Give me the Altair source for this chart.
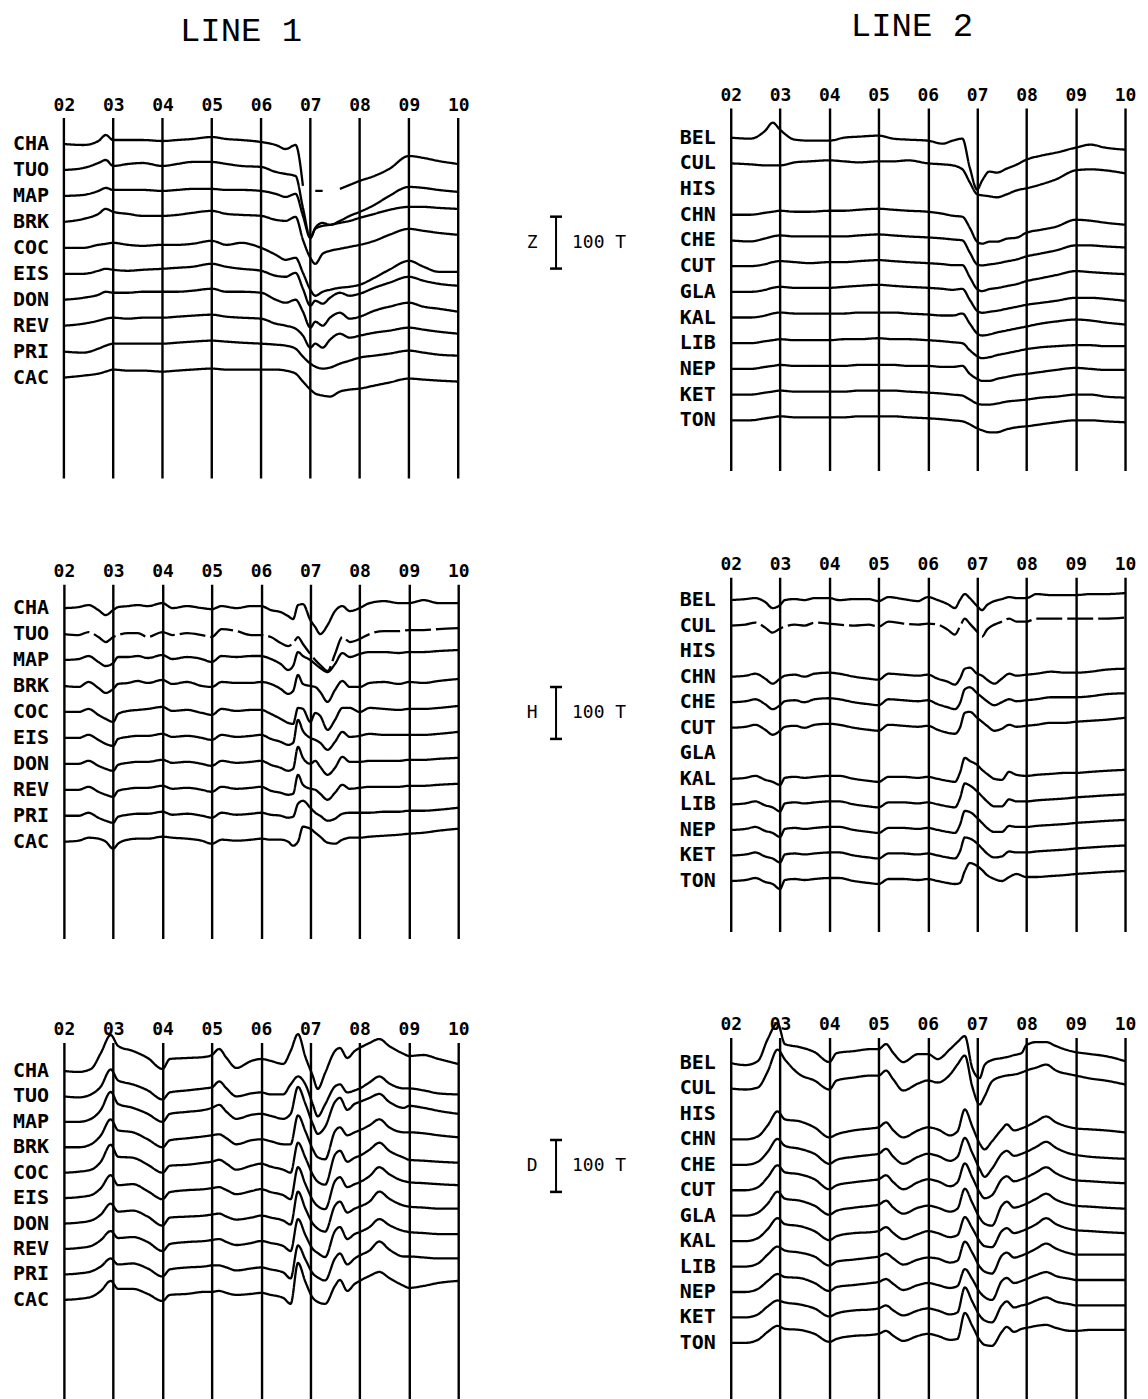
import json
import altair as alt
import pandas as pd

# ---------------------------------------------------------------- axes / labels
HOURS = [2, 3, 4, 5, 6, 7, 8, 9, 10]
HOUR_LABELS = ["02", "03", "04", "05", "06", "07", "08", "09", "10"]

LINE1 = ["CHA", "TUO", "MAP", "BRK", "COC", "EIS", "DON", "REV", "PRI", "CAC"]
LINE2 = ["BEL", "CUL", "HIS", "CHN", "CHE", "CUT", "GLA", "KAL", "LIB", "NEP", "KET", "TON"]

# sample times (hours UT) used when reading the traces
T_Z = [2.0, 2.4, 2.7, 2.85, 3.0, 3.3, 3.6, 4.0, 4.3, 4.6, 5.0, 5.3, 5.6, 6.0, 6.3, 6.5,
       6.7, 6.85, 7.0, 7.1, 7.25, 7.4, 7.6, 7.8, 8.0, 8.3, 8.6, 9.0, 9.3, 9.6, 10.0]
T_H = [2.0, 2.3, 2.5, 2.7, 2.85, 3.0, 3.1, 3.3, 3.5, 3.7, 4.0, 4.2, 4.5, 4.8, 5.0, 5.2,
       5.5, 5.8, 6.0, 6.2, 6.4, 6.55, 6.65, 6.75, 6.85, 7.0, 7.1, 7.2, 7.35, 7.5, 7.65,
       7.8, 8.0, 8.2, 8.5, 8.8, 9.0, 9.3, 9.6, 10.0]
T_D = [2.0, 2.3, 2.55, 2.75, 2.95, 3.1, 3.4, 3.7, 4.0, 4.15, 4.5, 4.85, 5.0, 5.15, 5.3,
       5.5, 5.8, 6.0, 6.2, 6.45, 6.6, 6.75, 6.9, 7.05, 7.15, 7.3, 7.5, 7.6, 7.75, 7.9,
       8.0, 8.2, 8.4, 8.6, 8.9, 9.0, 9.3, 9.6, 10.0]

# trace deviations from each station's baseline
# (plot units: 26 units = 50 T, i.e. the 100 T scale bar is 52 units); None = gap
Z_LINE1 = {
    "CHA": [0, -1, 3, 9, 4, 4, 4, 3, 4, 5, 7, 5, 4, 2, -1, -5, -1, -42, None, -47, -47, None, -45, -41, -37, -32, -25, -12, -14, -17, -20],
    "TUO": [0, 2, 7, 10, 4, 6, 7, 4, 6, 8, 8, 6, 4, 3, -2, -4, -6, -38, -68, -58, -53, -55, -51, -46, -42, -35, -26, -17, -18, -20, -22],
    "MAP": [0, 1, 5, 8, 6, 6, 6, 5, 6, 7, 7, 6, 6, 5, 2, -1, 2, -20, -42, -33, -30, -29, -27, -25, -22, -18, -14, -11, -11, -12, -13],
    "BRK": [0, 3, 8, 13, 10, 8, 6, 6, 7, 9, 11, 8, 7, 6, 2, 1, 5, -18, -36, -42, -32, -29, -27, -25, -23, -19, -13, -7, -9, -11, -13],
    "COC": [0, 0, 3, 4, 5, 3, 2, 3, 3, 4, 7, 3, 5, 0, -7, -12, -10, -25, -42, -48, -44, -42, -40, -39, -37, -30, -22, -13, -19, -24, -24],
    "EIS": [0, 0, 3, 5, 4, 3, 4, 5, 6, 7, 10, 7, 5, 3, -2, -3, 1, -15, -32, -27, -30, -24, -19, -22, -20, -14, -9, -3, -7, -10, -12],
    "DON": [0, 2, 5, 8, 7, 7, 8, 8, 8, 9, 11, 8, 8, 7, 0, -3, 0, -12, -28, -22, -26, -18, -13, -19, -17, -11, -7, -3, -7, -9, -12],
    "REV": [0, 2, 5, 7, 8, 7, 8, 8, 9, 10, 11, 9, 8, 7, 2, 0, -3, -10, -22, -18, -22, -14, -8, -12, -10, -7, -5, -2, -4, -6, -8],
    "PRI": [0, -1, 3, 6, 8, 8, 8, 8, 9, 10, 11, 10, 9, 8, 7, 6, 3, -5, -12, -15, -17, -16, -12, -9, -6, -4, -2, 1, -1, -3, -4],
    "CAC": [0, 2, 4, 6, 8, 7, 7, 6, 7, 8, 9, 8, 8, 8, 8, 7, 4, -4, -12, -16, -18, -19, -14, -12, -11, -8, -5, -1, -2, -3, -4],
}
Z_LINE2 = {
    "BEL": [0, -1, 7, 15, 8, -2, -3, -3, 0, 1, 2, -1, -2, -3, -6, -3, -1, -30, -52, -43, -34, -35, -31, -27, -22, -18, -15, -10, -7, -10, -12],
    "CUL": [0, -1, -2, -2, -2, 1, 2, 3, 2, 1, 2, 2, 3, 0, -1, -2, -6, -19, -31, -32, -33, -34, -31, -27, -25, -21, -16, -7, -6, -7, -10],
    "CHN": [0, 0, 2, 3, 4, 3, 3, 4, 4, 5, 6, 5, 4, 3, 1, -1, -2, -13, -27, -29, -27, -27, -24, -23, -18, -15, -12, -5, -6, -8, -10],
    "CHE": [0, -1, 2, 4, 5, 4, 4, 4, 4, 5, 6, 5, 4, 3, 2, 1, 0, -12, -24, -25, -24, -23, -21, -19, -16, -13, -10, -5, -5, -6, -7],
    "CUT": [0, 0, 2, 4, 5, 4, 3, 4, 4, 5, 6, 5, 4, 3, 2, 1, 1, -11, -23, -25, -23, -22, -20, -18, -15, -12, -9, -5, -6, -7, -8],
    "GLA": [0, 0, 2, 4, 5, 4, 4, 4, 5, 6, 7, 6, 5, 4, 3, 2, 3, -8, -19, -21, -20, -19, -17, -15, -13, -11, -9, -6, -6, -7, -9],
    "KAL": [0, 0, 2, 4, 5, 4, 4, 4, 4, 5, 5, 5, 4, 3, 2, 2, 4, -6, -16, -18, -17, -15, -13, -11, -9, -6, -4, -2, -3, -5, -7],
    "LIB": [0, 0, 2, 3, 4, 3, 3, 3, 4, 4, 5, 4, 4, 3, 2, 1, 0, -7, -13, -15, -14, -12, -10, -8, -6, -4, -3, -2, -2, -3, -3],
    "NEP": [0, 0, 2, 3, 4, 3, 3, 3, 3, 4, 4, 4, 3, 3, 2, 2, 3, -5, -10, -12, -12, -10, -8, -6, -5, -3, -1, 1, 0, -1, -1],
    "KET": [0, 0, 2, 3, 4, 3, 3, 3, 3, 4, 4, 4, 3, 2, 1, 0, -1, -5, -9, -10, -10, -9, -7, -6, -5, -3, -2, 0, 0, -2, -3],
    "TON": [0, 0, 2, 3, 4, 3, 3, 3, 3, 4, 4, 4, 3, 2, 1, 0, -1, -4, -8, -10, -12, -12, -9, -7, -6, -4, -2, 0, 0, -1, -2],
}
H_LINE1 = {
    "CHA": [0, 1, 3, -2, -7, -2, 1, 2, 3, 2, 5, 0, 2, 0, -1, 2, 0, 2, 2, -2, -4, -8, -11, 3, 4, -12, -19, -26, -17, -3, 2, -3, 0, 5, 7, 5, 5, 8, 5, 5],
    "TUO": [0, -1, 2, -3, -8, -3, -1, 1, 1, -3, 2, -1, 1, -1, -3, 5, 3, -1, -1, -3, -9, -12, -9, -3, -10, -20, -26, -31, -37, -20, -3, -8, -5, 0, 3, 3, 4, 4, 5, 6],
    "MAP": [0, 1, 4, -2, -6, -3, 3, 3, 4, 2, 5, 1, 3, 1, -2, 4, 3, 4, 4, 1, -4, -10, -6, 8, 4, 0, -4, -8, -12, -4, 7, 3, 6, 8, 8, 7, 8, 8, 9, 10],
    "BRK": [0, -1, 4, -2, -7, -3, 2, 3, 5, 3, 6, 2, 4, 0, -1, 4, 3, 3, 4, 2, -3, -8, -5, 11, 2, 0, -1, -6, -16, -4, 5, -1, -1, 3, 4, 2, 4, 3, 5, 7],
    "COC": [0, 0, 3, -3, -7, -10, -2, 1, 2, 3, 5, 1, 2, -1, -3, 3, 1, 2, 2, -2, -7, -11, -12, 4, 3, -10, -1, -4, -18, -8, 4, 4, 0, 4, 3, 2, 3, 3, 4, 6],
    "EIS": [0, 0, 3, -2, -6, -8, -1, 1, 2, 2, 4, 1, 2, 0, -2, 3, 1, 2, 3, -1, -4, -7, -5, 18, 7, 0, -2, -5, -12, -4, 6, 1, 2, 4, 3, 3, 3, 3, 4, 6],
    "DON": [0, 0, 3, -2, -5, -7, -1, 1, 2, 2, 4, 1, 2, 0, -2, 3, 1, 2, 3, -1, -4, -7, -5, 17, 6, 0, 3, -3, -11, -4, 7, 2, 2, 3, 3, 3, 4, 4, 5, 6],
    "REV": [0, 0, 3, -2, -5, -7, -1, 1, 2, 2, 4, 1, 2, 0, -2, 3, 1, 2, 3, -1, -3, -5, -4, 15, 5, 1, 0, -4, -10, -3, 5, 1, 2, 3, 3, 3, 4, 4, 5, 6],
    "PRI": [0, 0, 3, -2, -5, -7, -1, 1, 2, 2, 4, 1, 2, 0, -2, 3, 1, 2, 3, 1, 0, -2, -1, 12, 15, 8, 3, 0, -5, -3, 2, 3, 3, 3, 4, 4, 5, 5, 6, 8],
    "CAC": [0, 1, 4, 3, 0, -7, -2, 2, 3, 3, 5, 4, 3, 1, -2, 2, 1, 2, 3, 2, 2, 0, -4, 0, 15, 13, 9, 5, -1, -2, 2, 4, 4, 5, 6, 7, 8, 9, 11, 13],
}
H_LINE2 = {
    "BEL": [0, 1, 2, -2, -8, -5, 0, 1, 0, 2, 2, 0, 1, 1, -1, 3, 1, -1, 3, 0, -4, -8, 0, 6, 2, -6, -10, -5, -1, 1, 3, 2, 2, 6, 5, 5, 5, 6, 6, 7],
    "CUL": [0, 1, 3, -2, -7, -3, -1, 1, 0, 3, 2, 1, 0, 1, -1, 4, 2, 1, 2, 1, -4, -9, -1, 7, 2, -6, -11, -4, 1, 4, 7, 4, 4, 7, 7, 7, 7, 7, 7, 8],
    "CHN": [0, 1, 3, -2, -7, -2, 1, 2, 0, 3, 4, 3, 0, -2, -3, 3, 2, 1, 2, -2, -5, -8, -2, 8, 9, 3, 1, -3, -7, -2, 3, 1, 2, 3, 5, 4, 4, 5, 7, 8],
    "CHE": [0, 1, 3, -2, -7, -3, 1, 2, 0, 3, 4, 3, 0, -2, -3, 3, 2, 1, 2, -2, -5, -7, -1, 13, 15, 9, 5, 1, -3, 0, 3, 1, 2, 3, 5, 5, 5, 6, 8, 9],
    "CUT": [0, 1, 3, -2, -7, -3, 1, 2, 0, 3, 4, 3, 0, -2, -3, 3, 2, 1, 2, -2, -5, -6, 0, 15, 16, 10, 6, 2, -3, -1, 3, 1, 2, 3, 5, 5, 6, 7, 8, 10],
    "KAL": [0, 1, 3, -1, -3, -6, 1, 2, 1, 2, 3, 3, 0, -2, -3, 2, 2, 1, 2, 0, -2, -3, 6, 21, 18, 14, 9, 5, 0, -1, 7, 4, 3, 4, 5, 6, 6, 7, 8, 9],
    "LIB": [0, 1, 3, -1, -3, -7, 1, 2, 1, 2, 3, 3, 0, -2, -3, 2, 2, 1, 2, 0, -2, -3, 6, 21, 19, 13, 8, 3, -2, -2, 5, 3, 3, 4, 5, 6, 7, 8, 9, 10],
    "NEP": [0, 1, 3, -1, -3, -7, 1, 2, 1, 2, 3, 3, 0, -2, -3, 2, 2, 1, 2, 0, -2, -3, 5, 19, 18, 12, 7, 2, -2, -2, 4, 3, 3, 4, 5, 6, 7, 8, 9, 10],
    "KET": [0, 1, 3, -1, -3, -7, 1, 2, 1, 2, 3, 3, 0, -2, -3, 2, 2, 1, 2, 0, -2, -3, 4, 18, 17, 12, 7, 2, -2, -1, 4, 3, 3, 4, 5, 6, 7, 8, 9, 10],
    "TON": [0, 1, 3, -1, -3, -8, 1, 2, 1, 2, 3, 3, 0, -2, -3, 2, 2, 1, 2, 0, -2, -3, -2, 10, 18, 15, 11, 6, 2, 0, 4, 7, 4, 4, 5, 6, 7, 8, 9, 10],
}
D_LINE1 = {
    "CHA": [0, -1, 2, 18, 36, 25, 20, 13, 2, 12, 13, 14, 16, 22, 13, 3, 10, 12, 10, 7, 20, 37, 14, -5, -18, -2, 20, 23, 13, 20, 23, 28, 32, 25, 17, 15, 16, 12, 7],
    "TUO": [0, -1, 2, 10, 27, 16, 12, 6, -3, 4, 6, 8, 9, 15, 8, 0, 3, 4, 2, 2, 12, 20, 12, -8, -20, -8, 10, 12, 4, 6, 8, 14, 20, 13, 8, 8, 6, 3, 2],
    "MAP": [0, 0, 3, 12, 30, 18, 14, 8, 0, 8, 10, 12, 14, 17, 10, 3, 7, 8, 6, 3, 8, 35, 18, -2, -12, -5, 20, 24, 12, 18, 20, 24, 28, 20, 14, 16, 14, 11, 8],
    "BRK": [0, 0, 3, 12, 28, 17, 15, 8, 0, 7, 9, 11, 12, 13, 9, 3, 7, 8, 6, 3, 3, 32, 16, -2, -10, -12, 16, 20, 12, 15, 17, 22, 28, 20, 15, 15, 14, 12, 10],
    "COC": [0, 1, 3, 11, 28, 16, 15, 8, 0, 7, 8, 10, 11, 13, 9, 3, 7, 9, 6, 3, 0, 30, 15, -2, -9, -12, 18, 22, 11, 15, 17, 23, 30, 22, 15, 13, 12, 11, 10],
    "EIS": [0, 1, 3, 10, 23, 13, 14, 7, -1, 6, 8, 9, 10, 11, 8, 4, 7, 9, 6, 3, -1, 31, 14, -2, -8, -11, 17, 21, 11, 14, 16, 22, 31, 24, 17, 16, 15, 14, 13],
    "DON": [0, 1, 3, 9, 20, 12, 13, 7, -2, 6, 7, 8, 9, 10, 7, 4, 6, 8, 6, 3, -1, 32, 15, 0, -5, -8, 18, 22, 11, 15, 17, 22, 32, 25, 18, 17, 16, 15, 15],
    "REV": [0, 1, 3, 9, 18, 11, 12, 7, -2, 5, 7, 8, 9, 10, 7, 4, 6, 8, 6, 3, -2, 30, 14, 0, -4, -8, 18, 22, 10, 15, 17, 22, 30, 24, 18, 17, 16, 15, 15],
    "PRI": [0, 1, 3, 8, 16, 10, 11, 6, -2, 5, 7, 8, 9, 9, 7, 4, 6, 7, 5, 2, -4, 29, 15, 1, -3, -6, 16, 21, 10, 16, 19, 24, 33, 25, 18, 18, 17, 16, 16],
    "CAC": [0, 1, 3, 9, 19, 11, 11, 6, -1, 5, 6, 8, 8, 9, 7, 5, 6, 7, 5, 2, -4, 37, 18, 2, -2, -4, 14, 20, 9, 16, 19, 24, 28, 22, 14, 12, 14, 17, 19],
}
D_LINE2 = {
    "BEL": [0, -2, 2, 24, 40, 19, 16, 11, 1, 10, 12, 14, 14, 19, 10, 1, 9, 9, 4, 14, 21, 27, -5, -15, -2, 3, 5, 6, 8, 10, 18, 21, 21, 17, 12, 11, 9, 7, 2],
    "CUL": [0, -1, 1, 17, 39, 29, 14, 8, -1, 8, 11, 13, 13, 18, 9, -2, 5, 8, 6, 14, 24, 33, 2, -16, -8, 7, 12, 13, 14, 16, 18, 21, 24, 18, 14, 13, 10, 8, 4],
    "CHN": [0, 0, 3, 14, 28, 20, 18, 12, 2, 5, 9, 11, 12, 17, 9, 2, 9, 12, 10, 4, 8, 30, 13, -4, -10, -2, 10, 15, 9, 11, 13, 18, 23, 17, 12, 11, 10, 9, 7],
    "CHE": [0, 0, 3, 13, 26, 19, 16, 11, 1, 5, 8, 10, 11, 16, 8, 1, 8, 11, 9, 4, 8, 27, 12, -4, -12, -4, 11, 14, 9, 11, 13, 18, 23, 17, 11, 10, 8, 7, 6],
    "CUT": [0, 0, 3, 13, 25, 18, 16, 11, 1, 5, 8, 10, 11, 15, 8, 1, 8, 11, 9, 4, 8, 27, 13, -2, -8, -5, 11, 14, 9, 11, 13, 18, 23, 17, 11, 10, 9, 8, 7],
    "GLA": [0, 0, 3, 12, 24, 17, 15, 10, 1, 5, 8, 10, 11, 15, 8, 2, 8, 10, 8, 4, 7, 27, 13, -2, -8, -10, 10, 14, 8, 10, 12, 17, 22, 16, 11, 10, 9, 8, 7],
    "KAL": [0, 0, 3, 12, 23, 17, 15, 10, 1, 5, 8, 9, 10, 14, 8, 2, 7, 10, 8, 4, 6, 24, 13, 0, -5, -6, 10, 13, 8, 10, 12, 17, 23, 17, 12, 11, 10, 9, 8],
    "LIB": [0, 0, 3, 12, 20, 16, 14, 10, 1, 5, 7, 9, 10, 13, 8, 2, 7, 9, 8, 4, 6, 25, 14, 0, -5, -7, 11, 14, 9, 11, 13, 18, 23, 18, 13, 12, 12, 12, 12],
    "NEP": [0, 0, 3, 11, 18, 15, 14, 9, 1, 5, 7, 9, 10, 13, 8, 2, 7, 9, 7, 4, 6, 23, 13, 0, -5, -8, 11, 14, 9, 11, 13, 17, 20, 16, 13, 12, 12, 12, 12],
    "KET": [0, 0, 3, 11, 17, 15, 13, 9, 1, 4, 7, 8, 9, 12, 7, 2, 7, 9, 7, 3, 5, 30, 16, 2, -3, -5, 12, 16, 10, 12, 13, 17, 20, 16, 13, 12, 12, 12, 12],
    "TON": [0, 0, 3, 11, 17, 14, 13, 9, 1, 4, 7, 8, 9, 12, 7, 2, 7, 9, 7, 3, 4, 30, 17, 3, -2, -3, 11, 16, 11, 14, 15, 17, 18, 15, 12, 12, 13, 13, 13],
}

SCALE_LABEL = "100 T"
SCALE_T = 100
BAR_BOTTOM = {"Z": -290, "H": -298, "D": -288}   # T, in the LINE 1 panel's frame

# ---------------------------------------------------------------- styling / layout
FONT = "DejaVu Sans Mono"
TITLE_FONT = "Liberation Mono"
UNITS_PER_T = 0.52          # plot units (px) per T
PANEL_W = 395
BAR_X, LETTER_X, UNIT_X = 11.985, 11.5, 12.31   # hours, right of the LINE 1 panels

LABEL_EXPR = json.dumps(HOUR_LABELS) + "[datum.value - 2]"


def make_panel(times, stations, traces, first, step, height, dashed=(), title=None,
               comp=None, extra_top=0):
    rows = []
    for i, st in enumerate(stations):
        vals = traces.get(st)
        if vals is None:
            continue
        base = -(first + i * step)
        seg = 0
        for t, v in zip(times, vals):
            if v is None:
                seg += 1
                continue
            rows.append({"station": st, "seg": f"{st}-{seg}", "t": t,
                         "y": base + v / UNITS_PER_T,
                         "dash": "dashed" if st in dashed else "solid"})
    df = pd.DataFrame(rows)
    lab_df = pd.DataFrame({"station": stations, "t": [2] * len(stations),
                           "y": [-(first + i * step) for i in range(len(stations))]})

    use_grid = extra_top == 0
    x_enc = alt.X("t:Q", scale=alt.Scale(domain=[2, 10], nice=False, zero=False),
                  axis=alt.Axis(orient="top", values=HOURS, labelExpr=LABEL_EXPR,
                                grid=use_grid, gridColor="black", gridWidth=2.4,
                                gridOpacity=1, domain=False, ticks=False, tickSize=0,
                                labelPadding=4 - extra_top, labelFont=FONT,
                                labelFontSize=18, labelFontWeight="bold",
                                labelColor="black", labelFlush=False, labelOverlap=False,
                                title=None))
    bottom = -height / UNITS_PER_T
    y_enc = alt.Y("y:Q", scale=alt.Scale(domain=[bottom, extra_top / UNITS_PER_T],
                                         nice=False, zero=False), axis=None)

    layers = []
    if not use_grid:
        hour_df = pd.DataFrame({"t": HOURS, "y": [0] * len(HOURS),
                                "y2": [bottom] * len(HOURS)})
        layers.append(alt.Chart(hour_df).mark_rule(color="black", strokeWidth=2.4).encode(
            x=x_enc, y=y_enc, y2="y2:Q"))

    lines = alt.Chart(df).mark_line(color="black", strokeWidth=2.3, strokeJoin="round",
                                    interpolate="monotone").encode(
        x=x_enc, y=y_enc, detail="seg:N", order="t:Q",
        strokeDash=alt.StrokeDash("dash:N", scale=alt.Scale(domain=["solid", "dashed"],
                                                           range=[[1, 0], [26, 5]]),
                                  legend=None))
    labels = alt.Chart(lab_df).mark_text(align="right", baseline="middle", dx=-15, font=FONT,
                                         fontSize=20, fontWeight="bold", color="black").encode(
        x=x_enc, y=y_enc, text="station:N")
    layers += [lines, labels]

    if comp is not None:
        lo = BAR_BOTTOM[comp]
        bar_df = pd.DataFrame({"t": [BAR_X], "y": [lo], "y2": [lo + SCALE_T]})
        caps_df = pd.DataFrame({"t": [BAR_X, BAR_X], "y": [lo, lo + SCALE_T]})
        txt_df = pd.DataFrame({"t": [LETTER_X, UNIT_X], "y": [lo + SCALE_T / 2] * 2,
                               "txt": [comp, SCALE_LABEL], "al": ["c", "l"]})
        layers += [
            alt.Chart(bar_df).mark_rule(color="black", strokeWidth=2).encode(
                x=x_enc, y=y_enc, y2="y2:Q"),
            alt.Chart(caps_df).mark_point(shape="M-1,0L1,0", size=144, strokeWidth=2.5,
                                          color="black", filled=False, opacity=1).encode(
                x=x_enc, y=y_enc),
            alt.Chart(txt_df[txt_df.al == "c"]).mark_text(
                align="center", baseline="middle", font=FONT, fontSize=18,
                color="black").encode(x=x_enc, y=y_enc, text="txt:N"),
            alt.Chart(txt_df[txt_df.al == "l"]).mark_text(
                align="left", baseline="middle", font=FONT, fontSize=18,
                color="black").encode(x=x_enc, y=y_enc, text="txt:N"),
        ]

    props = dict(width=PANEL_W, height=height + extra_top)
    if title is not None:
        props["title"] = title
    return alt.layer(*layers).properties(**props)


t1 = alt.TitleParams("LINE 1", font=TITLE_FONT, fontSize=34, fontWeight="normal",
                     color="black", anchor="middle", frame="group", dx=-20, offset=48)
t2 = alt.TitleParams("LINE 2", font=TITLE_FONT, fontSize=34, fontWeight="normal",
                     color="black", anchor="middle", frame="group", dx=-16, offset=43)

left = alt.vconcat(
    make_panel(T_Z, LINE1, Z_LINE1, 50, 50, 361, title=t1, comp="Z", extra_top=10),
    make_panel(T_H, LINE1, H_LINE1, 46, 50, 355, dashed=("TUO",), comp="H"),
    make_panel(T_D, LINE1, D_LINE1, 55, 49, 362, comp="D"),
    spacing=82,
)
right_top = make_panel(T_Z, LINE2, Z_LINE2, 57, 49.5, 363, title=t2)
right_mid = make_panel(T_H, LINE2, H_LINE2, 44, 49.2, 355, dashed=("CUL",))
right_bot = make_panel(T_D, LINE2, D_LINE2, 49.4, 49, 380)
right = alt.vconcat(alt.vconcat(right_top, right_mid, spacing=85), right_bot, spacing=84)

chart = alt.concat(left, right, columns=2, align="none", spacing=52).properties(
    padding={"left": 4, "top": 0, "right": 4, "bottom": 0},
    background="white",
).configure_view(stroke=None)

chart.save("out.html", embed_options={"renderer": "svg", "actions": False})
